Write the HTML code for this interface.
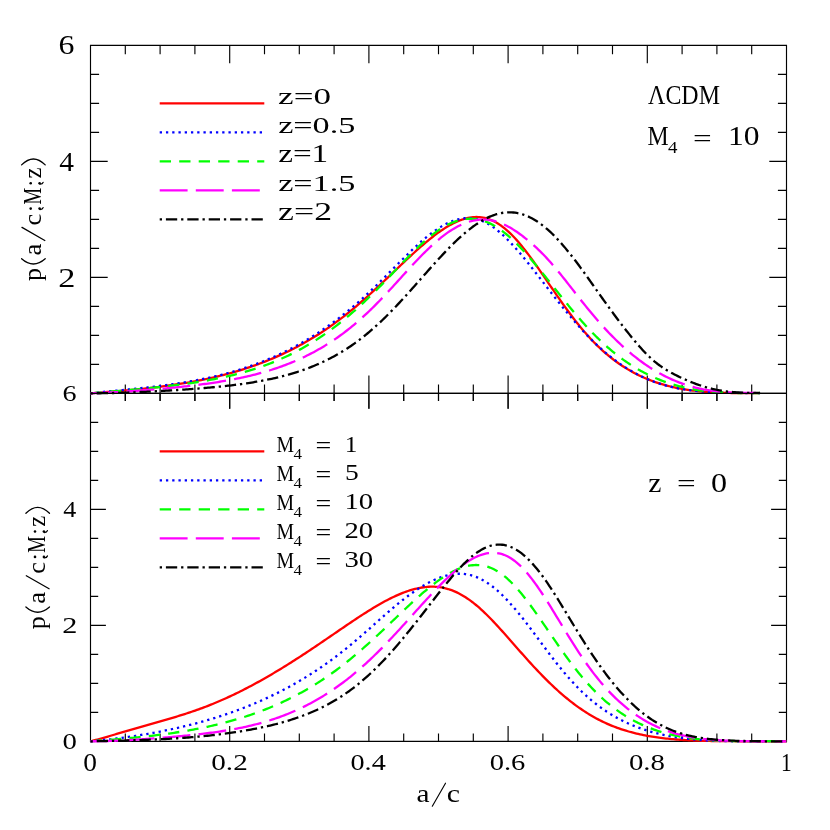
<!DOCTYPE html>
<html><head><meta charset="utf-8"><title>p(a/c;M;z)</title>
<style>
html,body{margin:0;padding:0;background:#fff;}
svg{display:block;font-family:"Liberation Serif",serif;}
</style></head>
<body>
<svg width="830" height="830" viewBox="0 0 830 830">
<rect width="830" height="830" fill="#fff"/>
<g opacity="0.999">
<path d="M90.50 45.30H786.50V741.30H90.50ZM90.50 393.30L786.50 393.30" fill="none" stroke="#000" stroke-width="1.15" stroke-linejoin="miter"/>
<path d="M125.30 393.30L125.30 384.40M125.30 45.30L125.30 54.20M160.10 393.30L160.10 384.40M160.10 45.30L160.10 54.20M194.90 393.30L194.90 384.40M194.90 45.30L194.90 54.20M229.70 393.30L229.70 375.40M229.70 45.30L229.70 63.20M264.50 393.30L264.50 384.40M264.50 45.30L264.50 54.20M299.30 393.30L299.30 384.40M299.30 45.30L299.30 54.20M334.10 393.30L334.10 384.40M334.10 45.30L334.10 54.20M368.90 393.30L368.90 375.40M368.90 45.30L368.90 63.20M403.70 393.30L403.70 384.40M403.70 45.30L403.70 54.20M438.50 393.30L438.50 384.40M438.50 45.30L438.50 54.20M473.30 393.30L473.30 384.40M473.30 45.30L473.30 54.20M508.10 393.30L508.10 375.40M508.10 45.30L508.10 63.20M542.90 393.30L542.90 384.40M542.90 45.30L542.90 54.20M577.70 393.30L577.70 384.40M577.70 45.30L577.70 54.20M612.50 393.30L612.50 384.40M612.50 45.30L612.50 54.20M647.30 393.30L647.30 375.40M647.30 45.30L647.30 63.20M682.10 393.30L682.10 384.40M682.10 45.30L682.10 54.20M716.90 393.30L716.90 384.40M716.90 45.30L716.90 54.20M751.70 393.30L751.70 384.40M751.70 45.30L751.70 54.20M90.50 364.30L99.10 364.30M786.50 364.30L777.90 364.30M90.50 335.30L99.10 335.30M786.50 335.30L777.90 335.30M90.50 306.30L99.10 306.30M786.50 306.30L777.90 306.30M90.50 277.30L107.70 277.30M786.50 277.30L769.30 277.30M90.50 248.30L99.10 248.30M786.50 248.30L777.90 248.30M90.50 219.30L99.10 219.30M786.50 219.30L777.90 219.30M90.50 190.30L99.10 190.30M786.50 190.30L777.90 190.30M90.50 161.30L107.70 161.30M786.50 161.30L769.30 161.30M90.50 132.30L99.10 132.30M786.50 132.30L777.90 132.30M90.50 103.30L99.10 103.30M786.50 103.30L777.90 103.30M90.50 74.30L99.10 74.30M786.50 74.30L777.90 74.30M125.30 741.30L125.30 733.60M125.30 393.30L125.30 401.00M160.10 741.30L160.10 733.60M160.10 393.30L160.10 401.00M194.90 741.30L194.90 733.60M194.90 393.30L194.90 401.00M229.70 741.30L229.70 725.90M229.70 393.30L229.70 408.70M264.50 741.30L264.50 733.60M264.50 393.30L264.50 401.00M299.30 741.30L299.30 733.60M299.30 393.30L299.30 401.00M334.10 741.30L334.10 733.60M334.10 393.30L334.10 401.00M368.90 741.30L368.90 725.90M368.90 393.30L368.90 408.70M403.70 741.30L403.70 733.60M403.70 393.30L403.70 401.00M438.50 741.30L438.50 733.60M438.50 393.30L438.50 401.00M473.30 741.30L473.30 733.60M473.30 393.30L473.30 401.00M508.10 741.30L508.10 725.90M508.10 393.30L508.10 408.70M542.90 741.30L542.90 733.60M542.90 393.30L542.90 401.00M577.70 741.30L577.70 733.60M577.70 393.30L577.70 401.00M612.50 741.30L612.50 733.60M612.50 393.30L612.50 401.00M647.30 741.30L647.30 725.90M647.30 393.30L647.30 408.70M682.10 741.30L682.10 733.60M682.10 393.30L682.10 401.00M716.90 741.30L716.90 733.60M716.90 393.30L716.90 401.00M751.70 741.30L751.70 733.60M751.70 393.30L751.70 401.00M90.50 712.30L98.20 712.30M786.50 712.30L778.80 712.30M90.50 683.30L98.20 683.30M786.50 683.30L778.80 683.30M90.50 654.30L98.20 654.30M786.50 654.30L778.80 654.30M90.50 625.30L105.90 625.30M786.50 625.30L771.10 625.30M90.50 596.30L98.20 596.30M786.50 596.30L778.80 596.30M90.50 567.30L98.20 567.30M786.50 567.30L778.80 567.30M90.50 538.30L98.20 538.30M786.50 538.30L778.80 538.30M90.50 509.30L105.90 509.30M786.50 509.30L771.10 509.30M90.50 480.30L98.20 480.30M786.50 480.30L778.80 480.30M90.50 451.30L98.20 451.30M786.50 451.30L778.80 451.30M90.50 422.30L98.20 422.30M786.50 422.30L778.80 422.30" fill="none" stroke="#000" stroke-width="1.15"/>
<path d="M90.50 393.30L92.18 393.18L93.86 393.06L95.53 392.93L97.21 392.80L98.89 392.68L100.57 392.55L102.25 392.42L103.92 392.29L105.60 392.16L107.28 392.02L108.96 391.89L110.64 391.75L112.31 391.61L113.99 391.48L115.67 391.34L117.35 391.19L119.03 391.05L120.71 390.90L122.38 390.75L124.06 390.60L125.74 390.45L127.42 390.30L129.10 390.14L130.77 389.98L132.45 389.82L134.13 389.66L135.81 389.49L137.49 389.32L139.16 389.15L140.84 388.97L142.52 388.80L144.20 388.62L145.88 388.43L147.55 388.24L149.23 388.05L150.91 387.86L152.59 387.66L154.27 387.46L155.94 387.26L157.62 387.05L159.30 386.84L160.98 386.62L162.66 386.40L164.34 386.18L166.01 385.95L167.69 385.72L169.37 385.49L171.05 385.25L172.73 385.00L174.40 384.75L176.08 384.50L177.76 384.24L179.44 383.97L181.12 383.70L182.79 383.43L184.47 383.15L186.15 382.87L187.83 382.58L189.51 382.28L191.18 381.98L192.86 381.67L194.54 381.36L196.22 381.04L197.90 380.72L199.57 380.39L201.25 380.05L202.93 379.71L204.61 379.36L206.29 379.00L207.97 378.64L209.64 378.27L211.32 377.89L213.00 377.51L214.68 377.12L216.36 376.72L218.03 376.32L219.71 375.90L221.39 375.48L223.07 375.06L224.75 374.62L226.42 374.18L228.10 373.73L229.78 373.27L231.46 372.80L233.14 372.33L234.81 371.84L236.49 371.35L238.17 370.85L239.85 370.34L241.53 369.82L243.20 369.29L244.88 368.76L246.56 368.21L248.24 367.66L249.92 367.09L251.60 366.52L253.27 365.93L254.95 365.34L256.63 364.74L258.31 364.12L259.99 363.50L261.66 362.86L263.34 362.22L265.02 361.56L266.70 360.90L268.38 360.22L270.05 359.53L271.73 358.83L273.41 358.12L275.09 357.40L276.77 356.66L278.44 355.92L280.12 355.16L281.80 354.39L283.48 353.61L285.16 352.82L286.83 352.01L288.51 351.19L290.19 350.36L291.87 349.52L293.55 348.66L295.23 347.80L296.90 346.91L298.58 346.02L300.26 345.11L301.94 344.19L303.62 343.25L305.29 342.30L306.97 341.33L308.65 340.36L310.33 339.36L312.01 338.36L313.68 337.34L315.36 336.30L317.04 335.25L318.72 334.18L320.40 333.10L322.07 332.00L323.75 330.89L325.43 329.77L327.11 328.62L328.79 327.46L330.46 326.29L332.14 325.10L333.82 323.89L335.50 322.67L337.18 321.43L338.86 320.17L340.53 318.90L342.21 317.61L343.89 316.31L345.57 314.99L347.25 313.66L348.92 312.31L350.60 310.94L352.28 309.56L353.96 308.17L355.64 306.76L357.31 305.33L358.99 303.90L360.67 302.45L362.35 300.98L364.03 299.51L365.70 298.02L367.38 296.52L369.06 295.01L370.74 293.49L372.42 291.96L374.09 290.42L375.77 288.87L377.45 287.31L379.13 285.74L380.81 284.17L382.49 282.59L384.16 281.00L385.84 279.41L387.52 277.82L389.20 276.22L390.88 274.62L392.55 273.02L394.23 271.42L395.91 269.82L397.59 268.21L399.27 266.61L400.94 265.02L402.62 263.43L404.30 261.84L405.98 260.26L407.66 258.68L409.33 257.12L411.01 255.56L412.69 254.01L414.37 252.48L416.05 250.96L417.72 249.45L419.40 247.96L421.08 246.48L422.76 245.02L424.44 243.59L426.12 242.17L427.79 240.77L429.47 239.40L431.15 238.05L432.83 236.73L434.51 235.44L436.18 234.17L437.86 232.94L439.54 231.74L441.22 230.57L442.90 229.44L444.57 228.35L446.25 227.30L447.93 226.28L449.61 225.31L451.29 224.38L452.96 223.50L454.64 222.67L456.32 221.88L458.00 221.15L459.68 220.47L461.35 219.84L463.03 219.28L464.71 218.77L466.39 218.32L468.07 217.93L469.74 217.61L471.42 217.36L473.10 217.17L474.78 217.06L476.46 217.02L478.14 217.06L479.81 217.17L481.49 217.36L483.17 217.63L484.85 217.98L486.53 218.41L488.20 218.93L489.88 219.53L491.56 220.21L493.24 220.98L494.92 221.83L496.59 222.76L498.27 223.78L499.95 224.88L501.63 226.06L503.31 227.32L504.98 228.67L506.66 230.09L508.34 231.58L510.02 233.15L511.70 234.80L513.37 236.51L515.05 238.30L516.73 240.14L518.41 242.06L520.09 244.03L521.77 246.06L523.44 248.14L525.12 250.27L526.80 252.45L528.48 254.67L530.16 256.93L531.83 259.22L533.51 261.54L535.19 263.90L536.87 266.28L538.55 268.67L540.22 271.09L541.90 273.52L543.58 275.96L545.26 278.41L546.94 280.87L548.61 283.33L550.29 285.78L551.97 288.24L553.65 290.68L555.33 293.12L557.00 295.55L558.68 297.96L560.36 300.36L562.04 302.74L563.72 305.09L565.40 307.43L567.07 309.74L568.75 312.02L570.43 314.28L572.11 316.50L573.79 318.70L575.46 320.86L577.14 322.98L578.82 325.08L580.50 327.13L582.18 329.15L583.85 331.13L585.53 333.07L587.21 334.98L588.89 336.84L590.57 338.67L592.24 340.45L593.92 342.19L595.60 343.90L597.28 345.56L598.96 347.18L600.63 348.76L602.31 350.31L603.99 351.81L605.67 353.28L607.35 354.71L609.03 356.10L610.70 357.45L612.38 358.77L614.06 360.05L615.74 361.30L617.42 362.51L619.09 363.70L620.77 364.84L622.45 365.96L624.13 367.04L625.81 368.09L627.48 369.12L629.16 370.11L630.84 371.07L632.52 372.00L634.20 372.91L635.87 373.78L637.55 374.63L639.23 375.45L640.91 376.25L642.59 377.02L644.26 377.76L645.94 378.48L647.62 379.18L649.30 379.85L650.98 380.50L652.66 381.13L654.33 381.73L656.01 382.31L657.69 382.87L659.37 383.41L661.05 383.93L662.72 384.43L664.40 384.91L666.08 385.37L667.76 385.81L669.44 386.24L671.11 386.65L672.79 387.04L674.47 387.41L676.15 387.76L677.83 388.11L679.50 388.43L681.18 388.74L682.86 389.04L684.54 389.32L686.22 389.59L687.89 389.84L689.57 390.08L691.25 390.31L692.93 390.53L694.61 390.73L696.29 390.93L697.96 391.11L699.64 391.28L701.32 391.44L703.00 391.60L704.68 391.74L706.35 391.87L708.03 391.99L709.71 392.11L711.39 392.22L713.07 392.32L714.74 392.41L716.42 392.49L718.10 392.57L719.78 392.64L721.46 392.71L723.13 392.77L724.81 392.82L726.49 392.87L728.17 392.92L729.85 392.95L731.52 392.99L733.20 393.02L734.88 393.05L736.56 393.07L738.24 393.09L739.92 393.11L741.59 393.12L743.27 393.13L744.95 393.14L746.63 393.15L748.31 393.15L749.98 393.16L751.66 393.16L753.34 393.16L755.02 393.16L756.70 393.17L758.37 393.17L760.05 393.17" fill="none" stroke="#ff0000" stroke-width="2.30" stroke-linejoin="round"/>
<path d="M90.50 393.30L92.18 393.13L93.86 392.95L95.53 392.77L97.21 392.59L98.89 392.41L100.57 392.24L102.25 392.07L103.92 391.90L105.60 391.73L107.28 391.56L108.96 391.39L110.64 391.22L112.31 391.05L113.99 390.89L115.67 390.72L117.35 390.55L119.03 390.39L120.71 390.22L122.38 390.05L124.06 389.88L125.74 389.72L127.42 389.55L129.10 389.38L130.77 389.21L132.45 389.04L134.13 388.86L135.81 388.69L137.49 388.51L139.16 388.33L140.84 388.15L142.52 387.97L144.20 387.79L145.88 387.60L147.55 387.41L149.23 387.22L150.91 387.03L152.59 386.83L154.27 386.63L155.94 386.43L157.62 386.23L159.30 386.02L160.98 385.81L162.66 385.59L164.34 385.37L166.01 385.15L167.69 384.92L169.37 384.69L171.05 384.45L172.73 384.21L174.40 383.97L176.08 383.72L177.76 383.47L179.44 383.21L181.12 382.94L182.79 382.67L184.47 382.40L186.15 382.12L187.83 381.83L189.51 381.54L191.18 381.25L192.86 380.94L194.54 380.63L196.22 380.32L197.90 380.00L199.57 379.67L201.25 379.34L202.93 379.00L204.61 378.65L206.29 378.29L207.97 377.93L209.64 377.56L211.32 377.19L213.00 376.80L214.68 376.41L216.36 376.01L218.03 375.61L219.71 375.19L221.39 374.77L223.07 374.34L224.75 373.90L226.42 373.45L228.10 372.99L229.78 372.53L231.46 372.06L233.14 371.57L234.81 371.08L236.49 370.58L238.17 370.07L239.85 369.55L241.53 369.02L243.20 368.48L244.88 367.94L246.56 367.38L248.24 366.81L249.92 366.23L251.60 365.64L253.27 365.04L254.95 364.43L256.63 363.81L258.31 363.18L259.99 362.54L261.66 361.89L263.34 361.23L265.02 360.55L266.70 359.87L268.38 359.17L270.05 358.46L271.73 357.74L273.41 357.01L275.09 356.26L276.77 355.51L278.44 354.74L280.12 353.96L281.80 353.17L283.48 352.36L285.16 351.54L286.83 350.71L288.51 349.87L290.19 349.02L291.87 348.15L293.55 347.27L295.23 346.37L296.90 345.46L298.58 344.54L300.26 343.61L301.94 342.66L303.62 341.70L305.29 340.72L306.97 339.73L308.65 338.72L310.33 337.71L312.01 336.67L313.68 335.63L315.36 334.56L317.04 333.49L318.72 332.40L320.40 331.29L322.07 330.17L323.75 329.03L325.43 327.88L327.11 326.72L328.79 325.54L330.46 324.34L332.14 323.13L333.82 321.90L335.50 320.65L337.18 319.40L338.86 318.12L340.53 316.83L342.21 315.52L343.89 314.20L345.57 312.86L347.25 311.50L348.92 310.12L350.60 308.73L352.28 307.33L353.96 305.90L355.64 304.46L357.31 303.01L358.99 301.53L360.67 300.04L362.35 298.54L364.03 297.02L365.70 295.48L367.38 293.93L369.06 292.36L370.74 290.78L372.42 289.19L374.09 287.58L375.77 285.96L377.45 284.33L379.13 282.69L380.81 281.04L382.49 279.39L384.16 277.72L385.84 276.05L387.52 274.37L389.20 272.68L390.88 271.00L392.55 269.31L394.23 267.62L395.91 265.93L397.59 264.24L399.27 262.56L400.94 260.88L402.62 259.21L404.30 257.54L405.98 255.89L407.66 254.24L409.33 252.61L411.01 250.99L412.69 249.39L414.37 247.81L416.05 246.25L417.72 244.71L419.40 243.20L421.08 241.71L422.76 240.25L424.44 238.83L426.12 237.43L427.79 236.07L429.47 234.74L431.15 233.45L432.83 232.20L434.51 230.99L436.18 229.83L437.86 228.71L439.54 227.63L441.22 226.61L442.90 225.63L444.57 224.71L446.25 223.84L447.93 223.02L449.61 222.26L451.29 221.56L452.96 220.92L454.64 220.34L456.32 219.83L458.00 219.38L459.68 218.99L461.35 218.67L463.03 218.43L464.71 218.25L466.39 218.15L468.07 218.12L469.74 218.17L471.42 218.29L473.10 218.49L474.78 218.77L476.46 219.13L478.14 219.57L479.81 220.09L481.49 220.70L483.17 221.38L484.85 222.15L486.53 222.99L488.20 223.91L489.88 224.91L491.56 225.99L493.24 227.13L494.92 228.35L496.59 229.64L498.27 231.00L499.95 232.42L501.63 233.90L503.31 235.43L504.98 237.03L506.66 238.67L508.34 240.36L510.02 242.10L511.70 243.89L513.37 245.71L515.05 247.58L516.73 249.47L518.41 251.41L520.09 253.37L521.77 255.36L523.44 257.38L525.12 259.43L526.80 261.49L528.48 263.58L530.16 265.68L531.83 267.80L533.51 269.93L535.19 272.07L536.87 274.22L538.55 276.38L540.22 278.55L541.90 280.71L543.58 282.89L545.26 285.06L546.94 287.22L548.61 289.39L550.29 291.55L551.97 293.71L553.65 295.86L555.33 297.99L557.00 300.12L558.68 302.24L560.36 304.34L562.04 306.43L563.72 308.50L565.40 310.56L567.07 312.60L568.75 314.62L570.43 316.62L572.11 318.60L573.79 320.56L575.46 322.49L577.14 324.41L578.82 326.29L580.50 328.16L582.18 329.99L583.85 331.80L585.53 333.59L587.21 335.35L588.89 337.08L590.57 338.78L592.24 340.45L593.92 342.09L595.60 343.71L597.28 345.29L598.96 346.85L600.63 348.38L602.31 349.87L603.99 351.34L605.67 352.78L607.35 354.18L609.03 355.56L610.70 356.91L612.38 358.22L614.06 359.51L615.74 360.77L617.42 362.00L619.09 363.20L620.77 364.37L622.45 365.51L624.13 366.62L625.81 367.70L627.48 368.75L629.16 369.78L630.84 370.77L632.52 371.74L634.20 372.68L635.87 373.59L637.55 374.47L639.23 375.33L640.91 376.16L642.59 376.96L644.26 377.74L645.94 378.49L647.62 379.21L649.30 379.91L650.98 380.59L652.66 381.24L654.33 381.86L656.01 382.46L657.69 383.04L659.37 383.59L661.05 384.12L662.72 384.63L664.40 385.12L666.08 385.58L667.76 386.03L669.44 386.45L671.11 386.86L672.79 387.24L674.47 387.61L676.15 387.96L677.83 388.29L679.50 388.60L681.18 388.90L682.86 389.18L684.54 389.44L686.22 389.69L687.89 389.93L689.57 390.15L691.25 390.36L692.93 390.56L694.61 390.75L696.29 390.92L697.96 391.09L699.64 391.24L701.32 391.39L703.00 391.52L704.68 391.65L706.35 391.77L708.03 391.88L709.71 391.98L711.39 392.07L713.07 392.16L714.74 392.25L716.42 392.32L718.10 392.40L719.78 392.46L721.46 392.52L723.13 392.58L724.81 392.63L726.49 392.68L728.17 392.73L729.85 392.77L731.52 392.81L733.20 392.85L734.88 392.88L736.56 392.91L738.24 392.94L739.92 392.97L741.59 392.99L743.27 393.02L744.95 393.04L746.63 393.06L748.31 393.08L749.98 393.10L751.66 393.12L753.34 393.13L755.02 393.15L756.70 393.17L758.37 393.18L760.05 393.19" fill="none" stroke="#0000ff" stroke-width="2.30" stroke-linejoin="round" stroke-dasharray="2.3 3.95"/>
<path d="M90.50 393.30L92.18 393.17L93.86 393.03L95.53 392.90L97.21 392.77L98.89 392.63L100.57 392.50L102.25 392.36L103.92 392.22L105.60 392.08L107.28 391.94L108.96 391.80L110.64 391.66L112.31 391.52L113.99 391.38L115.67 391.23L117.35 391.09L119.03 390.94L120.71 390.80L122.38 390.65L124.06 390.50L125.74 390.35L127.42 390.20L129.10 390.05L130.77 389.90L132.45 389.74L134.13 389.59L135.81 389.43L137.49 389.27L139.16 389.11L140.84 388.95L142.52 388.79L144.20 388.62L145.88 388.46L147.55 388.29L149.23 388.12L150.91 387.95L152.59 387.78L154.27 387.60L155.94 387.42L157.62 387.24L159.30 387.06L160.98 386.88L162.66 386.69L164.34 386.50L166.01 386.31L167.69 386.11L169.37 385.91L171.05 385.71L172.73 385.51L174.40 385.30L176.08 385.09L177.76 384.88L179.44 384.66L181.12 384.44L182.79 384.21L184.47 383.98L186.15 383.75L187.83 383.51L189.51 383.27L191.18 383.03L192.86 382.78L194.54 382.52L196.22 382.26L197.90 382.00L199.57 381.73L201.25 381.45L202.93 381.17L204.61 380.88L206.29 380.59L207.97 380.29L209.64 379.99L211.32 379.68L213.00 379.36L214.68 379.04L216.36 378.71L218.03 378.38L219.71 378.03L221.39 377.68L223.07 377.32L224.75 376.96L226.42 376.58L228.10 376.20L229.78 375.81L231.46 375.41L233.14 375.01L234.81 374.59L236.49 374.17L238.17 373.73L239.85 373.29L241.53 372.84L243.20 372.38L244.88 371.91L246.56 371.42L248.24 370.93L249.92 370.43L251.60 369.91L253.27 369.39L254.95 368.85L256.63 368.30L258.31 367.74L259.99 367.17L261.66 366.59L263.34 365.99L265.02 365.38L266.70 364.76L268.38 364.12L270.05 363.48L271.73 362.81L273.41 362.14L275.09 361.45L276.77 360.75L278.44 360.03L280.12 359.30L281.80 358.56L283.48 357.80L285.16 357.02L286.83 356.24L288.51 355.43L290.19 354.61L291.87 353.78L293.55 352.93L295.23 352.06L296.90 351.18L298.58 350.29L300.26 349.37L301.94 348.44L303.62 347.50L305.29 346.54L306.97 345.56L308.65 344.57L310.33 343.56L312.01 342.53L313.68 341.49L315.36 340.43L317.04 339.35L318.72 338.26L320.40 337.14L322.07 336.02L323.75 334.87L325.43 333.71L327.11 332.53L328.79 331.33L330.46 330.11L332.14 328.88L333.82 327.63L335.50 326.36L337.18 325.08L338.86 323.77L340.53 322.45L342.21 321.12L343.89 319.76L345.57 318.39L347.25 316.99L348.92 315.58L350.60 314.16L352.28 312.71L353.96 311.25L355.64 309.77L357.31 308.27L358.99 306.75L360.67 305.22L362.35 303.67L364.03 302.10L365.70 300.51L367.38 298.91L369.06 297.29L370.74 295.66L372.42 294.01L374.09 292.35L375.77 290.67L377.45 288.98L379.13 287.28L380.81 285.57L382.49 283.84L384.16 282.11L385.84 280.37L387.52 278.62L389.20 276.87L390.88 275.11L392.55 273.35L394.23 271.58L395.91 269.82L397.59 268.05L399.27 266.29L400.94 264.53L402.62 262.78L404.30 261.03L405.98 259.30L407.66 257.57L409.33 255.86L411.01 254.16L412.69 252.48L414.37 250.81L416.05 249.17L417.72 247.55L419.40 245.96L421.08 244.39L422.76 242.86L424.44 241.35L426.12 239.88L427.79 238.44L429.47 237.05L431.15 235.69L432.83 234.37L434.51 233.10L436.18 231.87L437.86 230.68L439.54 229.55L441.22 228.46L442.90 227.42L444.57 226.44L446.25 225.51L447.93 224.63L449.61 223.81L451.29 223.05L452.96 222.35L454.64 221.71L456.32 221.13L458.00 220.60L459.68 220.15L461.35 219.75L463.03 219.42L464.71 219.16L466.39 218.96L468.07 218.83L469.74 218.77L471.42 218.77L473.10 218.85L474.78 218.99L476.46 219.20L478.14 219.49L479.81 219.84L481.49 220.26L483.17 220.75L484.85 221.31L486.53 221.94L488.20 222.64L489.88 223.40L491.56 224.23L493.24 225.13L494.92 226.09L496.59 227.12L498.27 228.20L499.95 229.35L501.63 230.56L503.31 231.82L504.98 233.14L506.66 234.51L508.34 235.93L510.02 237.40L511.70 238.92L513.37 240.49L515.05 242.10L516.73 243.75L518.41 245.44L520.09 247.17L521.77 248.94L523.44 250.74L525.12 252.58L526.80 254.44L528.48 256.34L530.16 258.26L531.83 260.21L533.51 262.18L535.19 264.18L536.87 266.19L538.55 268.23L540.22 270.28L541.90 272.34L543.58 274.42L545.26 276.51L546.94 278.61L548.61 280.71L550.29 282.82L551.97 284.93L553.65 287.05L555.33 289.17L557.00 291.28L558.68 293.39L560.36 295.49L562.04 297.59L563.72 299.68L565.40 301.76L567.07 303.83L568.75 305.88L570.43 307.92L572.11 309.94L573.79 311.95L575.46 313.93L577.14 315.90L578.82 317.85L580.50 319.77L582.18 321.67L583.85 323.55L585.53 325.41L587.21 327.24L588.89 329.04L590.57 330.82L592.24 332.57L593.92 334.29L595.60 335.98L597.28 337.65L598.96 339.29L600.63 340.90L602.31 342.47L603.99 344.02L605.67 345.54L607.35 347.03L609.03 348.49L610.70 349.92L612.38 351.33L614.06 352.70L615.74 354.04L617.42 355.36L619.09 356.65L620.77 357.91L622.45 359.14L624.13 360.34L625.81 361.52L627.48 362.67L629.16 363.79L630.84 364.89L632.52 365.95L634.20 367.00L635.87 368.02L637.55 369.01L639.23 369.97L640.91 370.91L642.59 371.83L644.26 372.72L645.94 373.59L647.62 374.43L649.30 375.25L650.98 376.05L652.66 376.82L654.33 377.57L656.01 378.30L657.69 379.01L659.37 379.69L661.05 380.35L662.72 380.99L664.40 381.61L666.08 382.21L667.76 382.79L669.44 383.35L671.11 383.89L672.79 384.40L674.47 384.90L676.15 385.38L677.83 385.85L679.50 386.29L681.18 386.71L682.86 387.12L684.54 387.51L686.22 387.89L687.89 388.24L689.57 388.58L691.25 388.91L692.93 389.22L694.61 389.51L696.29 389.79L697.96 390.05L699.64 390.30L701.32 390.54L703.00 390.76L704.68 390.97L706.35 391.17L708.03 391.35L709.71 391.52L711.39 391.69L713.07 391.83L714.74 391.97L716.42 392.10L718.10 392.22L719.78 392.33L721.46 392.42L723.13 392.51L724.81 392.60L726.49 392.67L728.17 392.73L729.85 392.79L731.52 392.84L733.20 392.88L734.88 392.92L736.56 392.95L738.24 392.98L739.92 393.00L741.59 393.02L743.27 393.03L744.95 393.04L746.63 393.04L748.31 393.05L749.98 393.05L751.66 393.05L753.34 393.04L755.02 393.04L756.70 393.03L758.37 393.03L760.05 393.02" fill="none" stroke="#00ff00" stroke-width="2.30" stroke-linejoin="round" stroke-dasharray="11.3 8.2"/>
<path d="M90.50 393.29L92.18 393.24L93.86 393.18L95.53 393.12L97.21 393.06L98.89 393.00L100.57 392.93L102.25 392.86L103.92 392.78L105.60 392.71L107.28 392.62L108.96 392.54L110.64 392.45L112.31 392.37L113.99 392.27L115.67 392.18L117.35 392.08L119.03 391.98L120.71 391.88L122.38 391.78L124.06 391.67L125.74 391.57L127.42 391.46L129.10 391.34L130.77 391.23L132.45 391.11L134.13 390.99L135.81 390.87L137.49 390.75L139.16 390.63L140.84 390.50L142.52 390.37L144.20 390.24L145.88 390.11L147.55 389.97L149.23 389.84L150.91 389.70L152.59 389.56L154.27 389.42L155.94 389.27L157.62 389.13L159.30 388.98L160.98 388.83L162.66 388.68L164.34 388.52L166.01 388.36L167.69 388.21L169.37 388.04L171.05 387.88L172.73 387.71L174.40 387.55L176.08 387.37L177.76 387.20L179.44 387.02L181.12 386.85L182.79 386.66L184.47 386.48L186.15 386.29L187.83 386.10L189.51 385.91L191.18 385.71L192.86 385.51L194.54 385.31L196.22 385.10L197.90 384.89L199.57 384.67L201.25 384.45L202.93 384.23L204.61 384.00L206.29 383.77L207.97 383.54L209.64 383.30L211.32 383.05L213.00 382.80L214.68 382.55L216.36 382.29L218.03 382.03L219.71 381.76L221.39 381.48L223.07 381.20L224.75 380.91L226.42 380.62L228.10 380.32L229.78 380.01L231.46 379.70L233.14 379.38L234.81 379.06L236.49 378.72L238.17 378.38L239.85 378.04L241.53 377.68L243.20 377.32L244.88 376.94L246.56 376.56L248.24 376.18L249.92 375.78L251.60 375.37L253.27 374.96L254.95 374.53L256.63 374.10L258.31 373.66L259.99 373.20L261.66 372.74L263.34 372.27L265.02 371.78L266.70 371.29L268.38 370.78L270.05 370.26L271.73 369.74L273.41 369.20L275.09 368.64L276.77 368.08L278.44 367.50L280.12 366.91L281.80 366.31L283.48 365.70L285.16 365.07L286.83 364.43L288.51 363.77L290.19 363.10L291.87 362.42L293.55 361.72L295.23 361.01L296.90 360.28L298.58 359.54L300.26 358.78L301.94 358.01L303.62 357.22L305.29 356.41L306.97 355.59L308.65 354.75L310.33 353.90L312.01 353.03L313.68 352.14L315.36 351.23L317.04 350.30L318.72 349.36L320.40 348.39L322.07 347.41L323.75 346.41L325.43 345.39L327.11 344.35L328.79 343.29L330.46 342.21L332.14 341.11L333.82 339.99L335.50 338.85L337.18 337.69L338.86 336.50L340.53 335.30L342.21 334.07L343.89 332.81L345.57 331.54L347.25 330.24L348.92 328.92L350.60 327.58L352.28 326.21L353.96 324.82L355.64 323.40L357.31 321.97L358.99 320.50L360.67 319.02L362.35 317.51L364.03 315.97L365.70 314.42L367.38 312.84L369.06 311.24L370.74 309.61L372.42 307.97L374.09 306.31L375.77 304.62L377.45 302.92L379.13 301.20L380.81 299.47L382.49 297.71L384.16 295.94L385.84 294.16L387.52 292.37L389.20 290.56L390.88 288.74L392.55 286.91L394.23 285.08L395.91 283.24L397.59 281.39L399.27 279.54L400.94 277.69L402.62 275.84L404.30 273.99L405.98 272.15L407.66 270.31L409.33 268.47L411.01 266.65L412.69 264.84L414.37 263.04L416.05 261.25L417.72 259.48L419.40 257.73L421.08 256.01L422.76 254.30L424.44 252.62L426.12 250.96L427.79 249.33L429.47 247.73L431.15 246.15L432.83 244.62L434.51 243.11L436.18 241.64L437.86 240.20L439.54 238.80L441.22 237.45L442.90 236.13L444.57 234.85L446.25 233.62L447.93 232.43L449.61 231.28L451.29 230.19L452.96 229.14L454.64 228.14L456.32 227.19L458.00 226.29L459.68 225.44L461.35 224.65L463.03 223.91L464.71 223.22L466.39 222.59L468.07 222.02L469.74 221.50L471.42 221.05L473.10 220.65L474.78 220.31L476.46 220.03L478.14 219.82L479.81 219.66L481.49 219.57L483.17 219.55L484.85 219.58L486.53 219.68L488.20 219.84L489.88 220.07L491.56 220.36L493.24 220.72L494.92 221.14L496.59 221.62L498.27 222.16L499.95 222.76L501.63 223.43L503.31 224.15L504.98 224.93L506.66 225.77L508.34 226.65L510.02 227.60L511.70 228.59L513.37 229.62L515.05 230.71L516.73 231.83L518.41 233.00L520.09 234.20L521.77 235.45L523.44 236.73L525.12 238.04L526.80 239.39L528.48 240.77L530.16 242.19L531.83 243.64L533.51 245.13L535.19 246.65L536.87 248.20L538.55 249.80L540.22 251.43L541.90 253.10L543.58 254.81L545.26 256.56L546.94 258.36L548.61 260.19L550.29 262.06L551.97 263.97L553.65 265.92L555.33 267.90L557.00 269.91L558.68 271.95L560.36 274.01L562.04 276.10L563.72 278.20L565.40 280.32L567.07 282.45L568.75 284.59L570.43 286.73L572.11 288.88L573.79 291.03L575.46 293.18L577.14 295.32L578.82 297.45L580.50 299.58L582.18 301.70L583.85 303.80L585.53 305.89L587.21 307.96L588.89 310.02L590.57 312.05L592.24 314.07L593.92 316.07L595.60 318.04L597.28 319.99L598.96 321.91L600.63 323.81L602.31 325.68L603.99 327.53L605.67 329.35L607.35 331.15L609.03 332.92L610.70 334.66L612.38 336.37L614.06 338.06L615.74 339.72L617.42 341.35L619.09 342.95L620.77 344.53L622.45 346.08L624.13 347.60L625.81 349.09L627.48 350.56L629.16 352.00L630.84 353.41L632.52 354.79L634.20 356.15L635.87 357.47L637.55 358.77L639.23 360.05L640.91 361.29L642.59 362.51L644.26 363.70L645.94 364.86L647.62 366.00L649.30 367.11L650.98 368.19L652.66 369.24L654.33 370.27L656.01 371.27L657.69 372.24L659.37 373.19L661.05 374.11L662.72 375.01L664.40 375.88L666.08 376.72L667.76 377.54L669.44 378.33L671.11 379.10L672.79 379.84L674.47 380.56L676.15 381.25L677.83 381.92L679.50 382.57L681.18 383.19L682.86 383.79L684.54 384.36L686.22 384.92L687.89 385.45L689.57 385.95L691.25 386.44L692.93 386.91L694.61 387.35L696.29 387.77L697.96 388.18L699.64 388.56L701.32 388.92L703.00 389.27L704.68 389.59L706.35 389.90L708.03 390.19L709.71 390.46L711.39 390.71L713.07 390.95L714.74 391.17L716.42 391.37L718.10 391.56L719.78 391.74L721.46 391.90L723.13 392.05L724.81 392.18L726.49 392.30L728.17 392.41L729.85 392.51L731.52 392.59L733.20 392.67L734.88 392.73L736.56 392.79L738.24 392.84L739.92 392.88L741.59 392.91L743.27 392.93L744.95 392.95L746.63 392.96L748.31 392.97L749.98 392.97L751.66 392.97L753.34 392.97L755.02 392.96L756.70 392.95L758.37 392.94L760.05 392.93" fill="none" stroke="#ff00ff" stroke-width="2.30" stroke-linejoin="round" stroke-dasharray="27.9 8.2"/>
<path d="M90.50 393.28L92.18 393.28L93.86 393.28L95.53 393.28L97.21 393.27L98.89 393.25L100.57 393.24L102.25 393.22L103.92 393.20L105.60 393.17L107.28 393.14L108.96 393.11L110.64 393.07L112.31 393.03L113.99 392.99L115.67 392.94L117.35 392.90L119.03 392.85L120.71 392.80L122.38 392.74L124.06 392.69L125.74 392.63L127.42 392.57L129.10 392.50L130.77 392.44L132.45 392.37L134.13 392.30L135.81 392.23L137.49 392.16L139.16 392.09L140.84 392.01L142.52 391.94L144.20 391.86L145.88 391.78L147.55 391.70L149.23 391.61L150.91 391.53L152.59 391.44L154.27 391.35L155.94 391.27L157.62 391.18L159.30 391.08L160.98 390.99L162.66 390.90L164.34 390.80L166.01 390.71L167.69 390.61L169.37 390.51L171.05 390.41L172.73 390.30L174.40 390.20L176.08 390.09L177.76 389.99L179.44 389.88L181.12 389.77L182.79 389.65L184.47 389.54L186.15 389.42L187.83 389.31L189.51 389.19L191.18 389.06L192.86 388.94L194.54 388.82L196.22 388.69L197.90 388.56L199.57 388.42L201.25 388.29L202.93 388.15L204.61 388.01L206.29 387.87L207.97 387.72L209.64 387.58L211.32 387.42L213.00 387.27L214.68 387.11L216.36 386.95L218.03 386.78L219.71 386.62L221.39 386.44L223.07 386.27L224.75 386.09L226.42 385.90L228.10 385.72L229.78 385.52L231.46 385.33L233.14 385.12L234.81 384.92L236.49 384.71L238.17 384.49L239.85 384.27L241.53 384.04L243.20 383.80L244.88 383.56L246.56 383.32L248.24 383.07L249.92 382.81L251.60 382.54L253.27 382.27L254.95 381.99L256.63 381.71L258.31 381.41L259.99 381.11L261.66 380.80L263.34 380.48L265.02 380.16L266.70 379.82L268.38 379.48L270.05 379.13L271.73 378.77L273.41 378.40L275.09 378.02L276.77 377.63L278.44 377.22L280.12 376.81L281.80 376.39L283.48 375.96L285.16 375.51L286.83 375.06L288.51 374.59L290.19 374.11L291.87 373.62L293.55 373.12L295.23 372.60L296.90 372.07L298.58 371.52L300.26 370.96L301.94 370.39L303.62 369.81L305.29 369.20L306.97 368.59L308.65 367.96L310.33 367.31L312.01 366.65L313.68 365.97L315.36 365.27L317.04 364.56L318.72 363.83L320.40 363.08L322.07 362.31L323.75 361.53L325.43 360.72L327.11 359.90L328.79 359.06L330.46 358.20L332.14 357.32L333.82 356.42L335.50 355.49L337.18 354.55L338.86 353.58L340.53 352.59L342.21 351.58L343.89 350.55L345.57 349.49L347.25 348.41L348.92 347.31L350.60 346.18L352.28 345.03L353.96 343.85L355.64 342.65L357.31 341.42L358.99 340.17L360.67 338.89L362.35 337.58L364.03 336.25L365.70 334.90L367.38 333.51L369.06 332.11L370.74 330.67L372.42 329.22L374.09 327.74L375.77 326.23L377.45 324.70L379.13 323.15L380.81 321.57L382.49 319.97L384.16 318.35L385.84 316.70L387.52 315.04L389.20 313.35L390.88 311.65L392.55 309.92L394.23 308.18L395.91 306.42L397.59 304.64L399.27 302.85L400.94 301.05L402.62 299.23L404.30 297.39L405.98 295.55L407.66 293.70L409.33 291.83L411.01 289.96L412.69 288.08L414.37 286.19L416.05 284.30L417.72 282.40L419.40 280.50L421.08 278.60L422.76 276.70L424.44 274.80L426.12 272.90L427.79 271.01L429.47 269.12L431.15 267.24L432.83 265.36L434.51 263.50L436.18 261.64L437.86 259.80L439.54 257.98L441.22 256.17L442.90 254.37L444.57 252.59L446.25 250.84L447.93 249.10L449.61 247.39L451.29 245.70L452.96 244.03L454.64 242.40L456.32 240.79L458.00 239.21L459.68 237.66L461.35 236.14L463.03 234.66L464.71 233.21L466.39 231.80L468.07 230.42L469.74 229.09L471.42 227.80L473.10 226.54L474.78 225.34L476.46 224.17L478.14 223.06L479.81 221.99L481.49 220.97L483.17 220.00L484.85 219.08L486.53 218.21L488.20 217.40L489.88 216.64L491.56 215.95L493.24 215.31L494.92 214.73L496.59 214.20L498.27 213.75L499.95 213.35L501.63 213.01L503.31 212.74L504.98 212.54L506.66 212.40L508.34 212.32L510.02 212.31L511.70 212.37L513.37 212.49L515.05 212.68L516.73 212.94L518.41 213.27L520.09 213.66L521.77 214.12L523.44 214.65L525.12 215.25L526.80 215.91L528.48 216.64L530.16 217.43L531.83 218.30L533.51 219.22L535.19 220.22L536.87 221.27L538.55 222.39L540.22 223.58L541.90 224.82L543.58 226.13L545.26 227.49L546.94 228.92L548.61 230.40L550.29 231.94L551.97 233.54L553.65 235.19L555.33 236.89L557.00 238.64L558.68 240.44L560.36 242.30L562.04 244.19L563.72 246.14L565.40 248.12L567.07 250.15L568.75 252.21L570.43 254.32L572.11 256.45L573.79 258.62L575.46 260.82L577.14 263.05L578.82 265.31L580.50 267.58L582.18 269.88L583.85 272.20L585.53 274.53L587.21 276.88L588.89 279.24L590.57 281.60L592.24 283.97L593.92 286.35L595.60 288.72L597.28 291.10L598.96 293.48L600.63 295.85L602.31 298.21L603.99 300.57L605.67 302.92L607.35 305.26L609.03 307.58L610.70 309.90L612.38 312.19L614.06 314.48L615.74 316.74L617.42 318.99L619.09 321.22L620.77 323.43L622.45 325.62L624.13 327.78L625.81 329.93L627.48 332.05L629.16 334.15L630.84 336.23L632.52 338.28L634.20 340.30L635.87 342.30L637.55 344.26L639.23 346.18L640.91 348.07L642.59 349.91L644.26 351.71L645.94 353.45L647.62 355.14L649.30 356.77L650.98 358.34L652.66 359.84L654.33 361.28L656.01 362.66L657.69 363.98L659.37 365.24L661.05 366.43L662.72 367.58L664.40 368.67L666.08 369.72L667.76 370.72L669.44 371.69L671.11 372.62L672.79 373.53L674.47 374.41L676.15 375.27L677.83 376.10L679.50 376.92L681.18 377.72L682.86 378.51L684.54 379.27L686.22 380.01L687.89 380.74L689.57 381.44L691.25 382.13L692.93 382.79L694.61 383.43L696.29 384.05L697.96 384.65L699.64 385.22L701.32 385.78L703.00 386.31L704.68 386.82L706.35 387.30L708.03 387.76L709.71 388.20L711.39 388.62L713.07 389.02L714.74 389.39L716.42 389.75L718.10 390.08L719.78 390.38L721.46 390.67L723.13 390.94L724.81 391.19L726.49 391.41L728.17 391.62L729.85 391.81L731.52 391.98L733.20 392.13L734.88 392.27L736.56 392.38L738.24 392.49L739.92 392.58L741.59 392.65L743.27 392.71L744.95 392.76L746.63 392.79L748.31 392.82L749.98 392.84L751.66 392.85L753.34 392.85L755.02 392.84L756.70 392.83L758.37 392.82L760.05 392.80" fill="none" stroke="#000000" stroke-width="2.30" stroke-linejoin="round" stroke-dasharray="2.3 3.9 11.3 3.9"/>
<path d="M90.50 393.30L786.50 393.30M125.30 393.30L125.30 401.00M160.10 393.30L160.10 401.00M194.90 393.30L194.90 401.00M229.70 393.30L229.70 408.70M264.50 393.30L264.50 401.00M299.30 393.30L299.30 401.00M334.10 393.30L334.10 401.00M368.90 393.30L368.90 408.70M403.70 393.30L403.70 401.00M438.50 393.30L438.50 401.00M473.30 393.30L473.30 401.00M508.10 393.30L508.10 408.70M542.90 393.30L542.90 401.00M577.70 393.30L577.70 401.00M612.50 393.30L612.50 401.00M647.30 393.30L647.30 408.70M682.10 393.30L682.10 401.00M716.90 393.30L716.90 401.00M751.70 393.30L751.70 401.00" fill="none" stroke="#000" stroke-width="1.15"/>
<path d="M90.50 741.30L92.24 740.89L93.99 740.43L95.73 739.97L97.48 739.50L99.22 739.01L100.97 738.53L102.71 738.04L104.45 737.54L106.20 737.04L107.94 736.53L109.69 736.02L111.43 735.51L113.18 734.99L114.92 734.48L116.67 733.96L118.41 733.44L120.15 732.93L121.90 732.41L123.64 731.89L125.39 731.37L127.13 730.86L128.88 730.34L130.62 729.83L132.36 729.32L134.11 728.81L135.85 728.30L137.60 727.80L139.34 727.29L141.09 726.79L142.83 726.29L144.58 725.79L146.32 725.30L148.06 724.80L149.81 724.30L151.55 723.81L153.30 723.32L155.04 722.83L156.79 722.33L158.53 721.84L160.27 721.34L162.02 720.85L163.76 720.35L165.51 719.85L167.25 719.35L169.00 718.85L170.74 718.34L172.48 717.82L174.23 717.30L175.97 716.78L177.72 716.25L179.46 715.72L181.21 715.17L182.95 714.62L184.70 714.07L186.44 713.51L188.18 712.93L189.93 712.35L191.67 711.77L193.42 711.17L195.16 710.56L196.91 709.95L198.65 709.33L200.39 708.69L202.14 708.05L203.88 707.40L205.63 706.73L207.37 706.06L209.12 705.38L210.86 704.68L212.61 703.98L214.35 703.26L216.09 702.54L217.84 701.80L219.58 701.05L221.33 700.30L223.07 699.53L224.82 698.75L226.56 697.96L228.30 697.17L230.05 696.36L231.79 695.54L233.54 694.71L235.28 693.87L237.03 693.03L238.77 692.17L240.52 691.30L242.26 690.42L244.00 689.54L245.75 688.64L247.49 687.74L249.24 686.82L250.98 685.90L252.73 684.97L254.47 684.03L256.21 683.08L257.96 682.12L259.70 681.16L261.45 680.18L263.19 679.20L264.94 678.21L266.68 677.21L268.42 676.20L270.17 675.18L271.91 674.16L273.66 673.13L275.40 672.09L277.15 671.05L278.89 669.99L280.64 668.93L282.38 667.87L284.12 666.79L285.87 665.71L287.61 664.62L289.36 663.53L291.10 662.43L292.85 661.32L294.59 660.21L296.33 659.09L298.08 657.97L299.82 656.84L301.57 655.70L303.31 654.56L305.06 653.42L306.80 652.26L308.55 651.11L310.29 649.95L312.03 648.78L313.78 647.62L315.52 646.44L317.27 645.27L319.01 644.09L320.76 642.91L322.50 641.72L324.24 640.54L325.99 639.35L327.73 638.16L329.48 636.96L331.22 635.77L332.97 634.58L334.71 633.38L336.45 632.19L338.20 631.00L339.94 629.80L341.69 628.61L343.43 627.43L345.18 626.24L346.92 625.06L348.67 623.88L350.41 622.70L352.15 621.53L353.90 620.37L355.64 619.21L357.39 618.06L359.13 616.91L360.88 615.78L362.62 614.65L364.36 613.53L366.11 612.42L367.85 611.32L369.60 610.23L371.34 609.16L373.09 608.10L374.83 607.05L376.58 606.02L378.32 605.00L380.06 604.00L381.81 603.02L383.55 602.05L385.30 601.11L387.04 600.18L388.79 599.28L390.53 598.40L392.27 597.54L394.02 596.70L395.76 595.89L397.51 595.11L399.25 594.35L401.00 593.62L402.74 592.92L404.48 592.25L406.23 591.62L407.97 591.01L409.72 590.44L411.46 589.91L413.21 589.41L414.95 588.95L416.70 588.52L418.44 588.14L420.18 587.80L421.93 587.50L423.67 587.24L425.42 587.03L427.16 586.87L428.91 586.76L430.65 586.69L432.39 586.67L434.14 586.71L435.88 586.80L437.63 586.95L439.37 587.15L441.12 587.40L442.86 587.72L444.61 588.09L446.35 588.53L448.09 589.02L449.84 589.58L451.58 590.19L453.33 590.86L455.07 591.60L456.82 592.40L458.56 593.25L460.30 594.17L462.05 595.15L463.79 596.18L465.54 597.27L467.28 598.43L469.03 599.63L470.77 600.90L472.52 602.21L474.26 603.58L476.00 605.00L477.75 606.47L479.49 607.99L481.24 609.56L482.98 611.17L484.73 612.82L486.47 614.51L488.21 616.24L489.96 618.00L491.70 619.80L493.45 621.62L495.19 623.48L496.94 625.36L498.68 627.26L500.42 629.18L502.17 631.11L503.91 633.06L505.66 635.03L507.40 637.00L509.15 638.98L510.89 640.96L512.64 642.95L514.38 644.94L516.12 646.93L517.87 648.92L519.61 650.90L521.36 652.88L523.10 654.85L524.85 656.81L526.59 658.76L528.33 660.69L530.08 662.62L531.82 664.53L533.57 666.42L535.31 668.30L537.06 670.16L538.80 672.00L540.55 673.82L542.29 675.62L544.03 677.39L545.78 679.15L547.52 680.88L549.27 682.59L551.01 684.27L552.76 685.93L554.50 687.57L556.24 689.17L557.99 690.76L559.73 692.31L561.48 693.84L563.22 695.34L564.97 696.82L566.71 698.26L568.45 699.68L570.20 701.07L571.94 702.43L573.69 703.76L575.43 705.06L577.18 706.34L578.92 707.58L580.67 708.80L582.41 709.98L584.15 711.14L585.90 712.27L587.64 713.37L589.39 714.44L591.13 715.48L592.88 716.49L594.62 717.48L596.36 718.43L598.11 719.36L599.85 720.26L601.60 721.13L603.34 721.98L605.09 722.80L606.83 723.59L608.58 724.36L610.32 725.10L612.06 725.82L613.81 726.51L615.55 727.18L617.30 727.82L619.04 728.45L620.79 729.05L622.53 729.63L624.27 730.19L626.02 730.72L627.76 731.24L629.51 731.74L631.25 732.22L633.00 732.68L634.74 733.12L636.48 733.55L638.23 733.96L639.97 734.35L641.72 734.73L643.46 735.09L645.21 735.43L646.95 735.76L648.70 736.08L650.44 736.38L652.18 736.67L653.93 736.94L655.67 737.20L657.42 737.45L659.16 737.69L660.91 737.92L662.65 738.13L664.39 738.34L666.14 738.53L667.88 738.72L669.63 738.89L671.37 739.06L673.12 739.21L674.86 739.36L676.61 739.50L678.35 739.63L680.09 739.76L681.84 739.87L683.58 739.98L685.33 740.08L687.07 740.18L688.82 740.27L690.56 740.35L692.30 740.43L694.05 740.50L695.79 740.57L697.54 740.64L699.28 740.69L701.03 740.75L702.77 740.80L704.52 740.84L706.26 740.89L708.00 740.93L709.75 740.96L711.49 740.99L713.24 741.02L714.98 741.05L716.73 741.08L718.47 741.10L720.21 741.12L721.96 741.14L723.70 741.15L725.45 741.17L727.19 741.18L728.94 741.19L730.68 741.20L732.42 741.21L734.17 741.22L735.91 741.23L737.66 741.23L739.40 741.24L741.15 741.24L742.89 741.25L744.64 741.25L746.38 741.26L748.12 741.26L749.87 741.26L751.61 741.27L753.36 741.27L755.10 741.27L756.85 741.27L758.59 741.28L760.33 741.28L762.08 741.28L763.82 741.28L765.57 741.29L767.31 741.29L769.06 741.29L770.80 741.29L772.55 741.30L774.29 741.30L776.03 741.30L777.78 741.30L779.52 741.30L781.27 741.30L783.01 741.30L784.76 741.30L786.50 741.30" fill="none" stroke="#ff0000" stroke-width="2.30" stroke-linejoin="round"/>
<path d="M90.50 741.30L92.24 741.17L93.99 741.00L95.73 740.83L97.48 740.66L99.22 740.48L100.97 740.30L102.71 740.12L104.45 739.93L106.20 739.73L107.94 739.54L109.69 739.33L111.43 739.13L113.18 738.92L114.92 738.70L116.67 738.49L118.41 738.26L120.15 738.04L121.90 737.80L123.64 737.57L125.39 737.33L127.13 737.08L128.88 736.83L130.62 736.58L132.36 736.32L134.11 736.06L135.85 735.79L137.60 735.51L139.34 735.24L141.09 734.95L142.83 734.67L144.58 734.38L146.32 734.08L148.06 733.78L149.81 733.47L151.55 733.16L153.30 732.84L155.04 732.52L156.79 732.19L158.53 731.86L160.27 731.52L162.02 731.18L163.76 730.83L165.51 730.47L167.25 730.11L169.00 729.75L170.74 729.38L172.48 729.00L174.23 728.62L175.97 728.23L177.72 727.83L179.46 727.43L181.21 727.03L182.95 726.61L184.70 726.20L186.44 725.77L188.18 725.34L189.93 724.90L191.67 724.46L193.42 724.01L195.16 723.55L196.91 723.09L198.65 722.62L200.39 722.14L202.14 721.65L203.88 721.16L205.63 720.67L207.37 720.16L209.12 719.65L210.86 719.13L212.61 718.60L214.35 718.07L216.09 717.52L217.84 716.97L219.58 716.42L221.33 715.85L223.07 715.28L224.82 714.70L226.56 714.11L228.30 713.51L230.05 712.91L231.79 712.29L233.54 711.67L235.28 711.04L237.03 710.40L238.77 709.75L240.52 709.10L242.26 708.43L244.00 707.76L245.75 707.07L247.49 706.38L249.24 705.68L250.98 704.97L252.73 704.25L254.47 703.52L256.21 702.78L257.96 702.03L259.70 701.27L261.45 700.50L263.19 699.72L264.94 698.93L266.68 698.12L268.42 697.31L270.17 696.49L271.91 695.66L273.66 694.82L275.40 693.96L277.15 693.10L278.89 692.22L280.64 691.33L282.38 690.43L284.12 689.52L285.87 688.60L287.61 687.66L289.36 686.72L291.10 685.76L292.85 684.79L294.59 683.81L296.33 682.81L298.08 681.80L299.82 680.78L301.57 679.75L303.31 678.70L305.06 677.64L306.80 676.57L308.55 675.49L310.29 674.39L312.03 673.27L313.78 672.15L315.52 671.01L317.27 669.85L319.01 668.68L320.76 667.50L322.50 666.30L324.24 665.09L325.99 663.86L327.73 662.62L329.48 661.36L331.22 660.09L332.97 658.80L334.71 657.50L336.45 656.18L338.20 654.85L339.94 653.50L341.69 652.13L343.43 650.75L345.18 649.36L346.92 647.95L348.67 646.52L350.41 645.08L352.15 643.63L353.90 642.17L355.64 640.69L357.39 639.20L359.13 637.70L360.88 636.19L362.62 634.67L364.36 633.15L366.11 631.61L367.85 630.07L369.60 628.53L371.34 626.98L373.09 625.42L374.83 623.87L376.58 622.31L378.32 620.76L380.06 619.21L381.81 617.67L383.55 616.13L385.30 614.59L387.04 613.07L388.79 611.56L390.53 610.06L392.27 608.57L394.02 607.10L395.76 605.64L397.51 604.20L399.25 602.78L401.00 601.37L402.74 599.99L404.48 598.63L406.23 597.30L407.97 595.98L409.72 594.69L411.46 593.43L413.21 592.19L414.95 590.99L416.70 589.81L418.44 588.66L420.18 587.55L421.93 586.47L423.67 585.42L425.42 584.41L427.16 583.43L428.91 582.50L430.65 581.60L432.39 580.74L434.14 579.93L435.88 579.16L437.63 578.43L439.37 577.75L441.12 577.12L442.86 576.54L444.61 576.01L446.35 575.53L448.09 575.11L449.84 574.74L451.58 574.43L453.33 574.17L455.07 573.98L456.82 573.84L458.56 573.77L460.30 573.77L462.05 573.83L463.79 573.96L465.54 574.16L467.28 574.43L469.03 574.77L470.77 575.18L472.52 575.67L474.26 576.24L476.00 576.87L477.75 577.59L479.49 578.38L481.24 579.24L482.98 580.17L484.73 581.18L486.47 582.26L488.21 583.42L489.96 584.64L491.70 585.92L493.45 587.28L495.19 588.70L496.94 590.19L498.68 591.73L500.42 593.34L502.17 595.01L503.91 596.73L505.66 598.51L507.40 600.34L509.15 602.22L510.89 604.15L512.64 606.13L514.38 608.15L516.12 610.21L517.87 612.31L519.61 614.45L521.36 616.63L523.10 618.83L524.85 621.07L526.59 623.33L528.33 625.61L530.08 627.92L531.82 630.24L533.57 632.57L535.31 634.92L537.06 637.27L538.80 639.63L540.55 641.99L542.29 644.35L544.03 646.70L545.78 649.04L547.52 651.37L549.27 653.69L551.01 655.98L552.76 658.26L554.50 660.52L556.24 662.75L557.99 664.96L559.73 667.14L561.48 669.28L563.22 671.40L564.97 673.48L566.71 675.53L568.45 677.54L570.20 679.51L571.94 681.44L573.69 683.34L575.43 685.19L577.18 687.01L578.92 688.78L580.67 690.52L582.41 692.21L584.15 693.86L585.90 695.47L587.64 697.03L589.39 698.56L591.13 700.05L592.88 701.49L594.62 702.90L596.36 704.27L598.11 705.60L599.85 706.90L601.60 708.16L603.34 709.38L605.09 710.57L606.83 711.73L608.58 712.85L610.32 713.94L612.06 715.00L613.81 716.03L615.55 717.03L617.30 718.00L619.04 718.94L620.79 719.85L622.53 720.73L624.27 721.59L626.02 722.42L627.76 723.22L629.51 724.00L631.25 724.76L633.00 725.49L634.74 726.19L636.48 726.87L638.23 727.53L639.97 728.17L641.72 728.79L643.46 729.38L645.21 729.96L646.95 730.51L648.70 731.05L650.44 731.56L652.18 732.06L653.93 732.54L655.67 733.00L657.42 733.45L659.16 733.88L660.91 734.29L662.65 734.68L664.39 735.06L666.14 735.43L667.88 735.78L669.63 736.11L671.37 736.43L673.12 736.74L674.86 737.04L676.61 737.32L678.35 737.59L680.09 737.84L681.84 738.09L683.58 738.32L685.33 738.54L687.07 738.75L688.82 738.95L690.56 739.14L692.30 739.32L694.05 739.49L695.79 739.64L697.54 739.79L699.28 739.93L701.03 740.07L702.77 740.19L704.52 740.30L706.26 740.41L708.00 740.51L709.75 740.60L711.49 740.68L713.24 740.76L714.98 740.83L716.73 740.90L718.47 740.95L720.21 741.01L721.96 741.05L723.70 741.10L725.45 741.13L727.19 741.17L728.94 741.19L730.68 741.22L732.42 741.24L734.17 741.25L735.91 741.27L737.66 741.28L739.40 741.28L741.15 741.29L742.89 741.29L744.64 741.29L746.38 741.29L748.12 741.28L749.87 741.28L751.61 741.27L753.36 741.27L755.10 741.26L756.85 741.25L758.59 741.24L760.33 741.24L762.08 741.23L763.82 741.22L765.57 741.22L767.31 741.21L769.06 741.21L770.80 741.21L772.55 741.21L774.29 741.21L776.03 741.22L777.78 741.22L779.52 741.23L781.27 741.25L783.01 741.26L784.76 741.28L786.50 741.30" fill="none" stroke="#0000ff" stroke-width="2.30" stroke-linejoin="round" stroke-dasharray="2.3 3.95"/>
<path d="M90.50 741.30L92.24 741.18L93.99 741.05L95.73 740.92L97.48 740.78L99.22 740.65L100.97 740.52L102.71 740.38L104.45 740.25L106.20 740.11L107.94 739.97L109.69 739.83L111.43 739.69L113.18 739.54L114.92 739.40L116.67 739.25L118.41 739.10L120.15 738.95L121.90 738.80L123.64 738.64L125.39 738.48L127.13 738.32L128.88 738.16L130.62 738.00L132.36 737.83L134.11 737.66L135.85 737.49L137.60 737.31L139.34 737.13L141.09 736.95L142.83 736.76L144.58 736.57L146.32 736.38L148.06 736.19L149.81 735.99L151.55 735.79L153.30 735.58L155.04 735.37L156.79 735.16L158.53 734.94L160.27 734.72L162.02 734.49L163.76 734.26L165.51 734.02L167.25 733.78L169.00 733.54L170.74 733.29L172.48 733.04L174.23 732.78L175.97 732.51L177.72 732.24L179.46 731.97L181.21 731.69L182.95 731.40L184.70 731.11L186.44 730.82L188.18 730.51L189.93 730.20L191.67 729.89L193.42 729.57L195.16 729.24L196.91 728.91L198.65 728.57L200.39 728.22L202.14 727.87L203.88 727.51L205.63 727.14L207.37 726.77L209.12 726.38L210.86 726.00L212.61 725.60L214.35 725.19L216.09 724.78L217.84 724.36L219.58 723.94L221.33 723.50L223.07 723.06L224.82 722.60L226.56 722.14L228.30 721.67L230.05 721.20L231.79 720.71L233.54 720.21L235.28 719.71L237.03 719.19L238.77 718.67L240.52 718.14L242.26 717.59L244.00 717.04L245.75 716.48L247.49 715.91L249.24 715.32L250.98 714.73L252.73 714.13L254.47 713.51L256.21 712.89L257.96 712.25L259.70 711.60L261.45 710.95L263.19 710.28L264.94 709.59L266.68 708.90L268.42 708.20L270.17 707.48L271.91 706.75L273.66 706.01L275.40 705.26L277.15 704.50L278.89 703.72L280.64 702.93L282.38 702.12L284.12 701.31L285.87 700.48L287.61 699.63L289.36 698.78L291.10 697.91L292.85 697.02L294.59 696.13L296.33 695.21L298.08 694.29L299.82 693.35L301.57 692.39L303.31 691.42L305.06 690.43L306.80 689.43L308.55 688.42L310.29 687.39L312.03 686.34L313.78 685.28L315.52 684.20L317.27 683.11L319.01 681.99L320.76 680.87L322.50 679.72L324.24 678.56L325.99 677.39L327.73 676.19L329.48 674.98L331.22 673.75L332.97 672.51L334.71 671.24L336.45 669.96L338.20 668.66L339.94 667.35L341.69 666.02L343.43 664.67L345.18 663.30L346.92 661.92L348.67 660.51L350.41 659.10L352.15 657.66L353.90 656.22L355.64 654.75L357.39 653.27L359.13 651.78L360.88 650.27L362.62 648.75L364.36 647.21L366.11 645.66L367.85 644.10L369.60 642.52L371.34 640.94L373.09 639.34L374.83 637.74L376.58 636.12L378.32 634.50L380.06 632.87L381.81 631.23L383.55 629.58L385.30 627.93L387.04 626.27L388.79 624.61L390.53 622.95L392.27 621.29L394.02 619.62L395.76 617.96L397.51 616.29L399.25 614.63L401.00 612.97L402.74 611.31L404.48 609.66L406.23 608.02L407.97 606.39L409.72 604.76L411.46 603.14L413.21 601.54L414.95 599.95L416.70 598.37L418.44 596.81L420.18 595.27L421.93 593.74L423.67 592.24L425.42 590.76L427.16 589.30L428.91 587.86L430.65 586.45L432.39 585.07L434.14 583.72L435.88 582.40L437.63 581.11L439.37 579.86L441.12 578.64L442.86 577.47L444.61 576.33L446.35 575.24L448.09 574.18L449.84 573.18L451.58 572.22L453.33 571.32L455.07 570.46L456.82 569.66L458.56 568.91L460.30 568.23L462.05 567.60L463.79 567.04L465.54 566.54L467.28 566.10L469.03 565.74L470.77 565.45L472.52 565.23L474.26 565.09L476.00 565.02L477.75 565.04L479.49 565.14L481.24 565.33L482.98 565.60L484.73 565.95L486.47 566.40L488.21 566.93L489.96 567.56L491.70 568.27L493.45 569.08L495.19 569.98L496.94 570.96L498.68 572.04L500.42 573.21L502.17 574.46L503.91 575.80L505.66 577.23L507.40 578.74L509.15 580.33L510.89 582.00L512.64 583.75L514.38 585.57L516.12 587.47L517.87 589.43L519.61 591.46L521.36 593.56L523.10 595.71L524.85 597.92L526.59 600.17L528.33 602.48L530.08 604.82L531.82 607.20L533.57 609.62L535.31 612.07L537.06 614.54L538.80 617.04L540.55 619.55L542.29 622.08L544.03 624.62L545.78 627.17L547.52 629.73L549.27 632.28L551.01 634.84L552.76 637.38L554.50 639.92L556.24 642.45L557.99 644.97L559.73 647.46L561.48 649.94L563.22 652.40L564.97 654.83L566.71 657.24L568.45 659.62L570.20 661.97L571.94 664.29L573.69 666.57L575.43 668.82L577.18 671.03L578.92 673.20L580.67 675.34L582.41 677.43L584.15 679.48L585.90 681.49L587.64 683.46L589.39 685.39L591.13 687.27L592.88 689.11L594.62 690.91L596.36 692.66L598.11 694.37L599.85 696.03L601.60 697.65L603.34 699.23L605.09 700.77L606.83 702.27L608.58 703.73L610.32 705.14L612.06 706.52L613.81 707.86L615.55 709.16L617.30 710.43L619.04 711.66L620.79 712.85L622.53 714.01L624.27 715.14L626.02 716.23L627.76 717.28L629.51 718.31L631.25 719.30L633.00 720.26L634.74 721.19L636.48 722.10L638.23 722.97L639.97 723.81L641.72 724.62L643.46 725.41L645.21 726.17L646.95 726.91L648.70 727.61L650.44 728.30L652.18 728.95L653.93 729.59L655.67 730.20L657.42 730.78L659.16 731.35L660.91 731.89L662.65 732.41L664.39 732.91L666.14 733.39L667.88 733.85L669.63 734.29L671.37 734.71L673.12 735.11L674.86 735.49L676.61 735.86L678.35 736.21L680.09 736.54L681.84 736.86L683.58 737.16L685.33 737.45L687.07 737.72L688.82 737.98L690.56 738.22L692.30 738.45L694.05 738.67L695.79 738.87L697.54 739.06L699.28 739.25L701.03 739.42L702.77 739.58L704.52 739.72L706.26 739.86L708.00 739.99L709.75 740.11L711.49 740.22L713.24 740.33L714.98 740.42L716.73 740.51L718.47 740.59L720.21 740.66L721.96 740.73L723.70 740.79L725.45 740.84L727.19 740.89L728.94 740.93L730.68 740.97L732.42 741.01L734.17 741.04L735.91 741.06L737.66 741.08L739.40 741.10L741.15 741.12L742.89 741.13L744.64 741.14L746.38 741.15L748.12 741.15L749.87 741.16L751.61 741.16L753.36 741.16L755.10 741.16L756.85 741.17L758.59 741.17L760.33 741.17L762.08 741.17L763.82 741.17L765.57 741.17L767.31 741.17L769.06 741.17L770.80 741.17L772.55 741.18L774.29 741.19L776.03 741.20L777.78 741.21L779.52 741.22L781.27 741.23L783.01 741.25L784.76 741.27L786.50 741.30" fill="none" stroke="#00ff00" stroke-width="2.30" stroke-linejoin="round" stroke-dasharray="11.3 8.2"/>
<path d="M90.50 741.26L92.24 741.27L93.99 741.26L95.73 741.25L97.48 741.24L99.22 741.21L100.97 741.18L102.71 741.15L104.45 741.11L106.20 741.06L107.94 741.01L109.69 740.96L111.43 740.90L113.18 740.83L114.92 740.77L116.67 740.69L118.41 740.62L120.15 740.54L121.90 740.45L123.64 740.37L125.39 740.28L127.13 740.18L128.88 740.08L130.62 739.99L132.36 739.88L134.11 739.78L135.85 739.67L137.60 739.56L139.34 739.45L141.09 739.33L142.83 739.21L144.58 739.09L146.32 738.97L148.06 738.84L149.81 738.72L151.55 738.59L153.30 738.46L155.04 738.33L156.79 738.19L158.53 738.05L160.27 737.91L162.02 737.77L163.76 737.63L165.51 737.49L167.25 737.34L169.00 737.19L170.74 737.04L172.48 736.88L174.23 736.73L175.97 736.57L177.72 736.41L179.46 736.24L181.21 736.08L182.95 735.91L184.70 735.74L186.44 735.56L188.18 735.39L189.93 735.21L191.67 735.02L193.42 734.84L195.16 734.65L196.91 734.45L198.65 734.25L200.39 734.05L202.14 733.85L203.88 733.64L205.63 733.42L207.37 733.20L209.12 732.98L210.86 732.75L212.61 732.52L214.35 732.28L216.09 732.03L217.84 731.78L219.58 731.53L221.33 731.26L223.07 730.99L224.82 730.72L226.56 730.43L228.30 730.14L230.05 729.84L231.79 729.54L233.54 729.22L235.28 728.90L237.03 728.57L238.77 728.23L240.52 727.88L242.26 727.52L244.00 727.15L245.75 726.77L247.49 726.38L249.24 725.98L250.98 725.57L252.73 725.14L254.47 724.71L256.21 724.26L257.96 723.81L259.70 723.34L261.45 722.86L263.19 722.36L264.94 721.85L266.68 721.33L268.42 720.80L270.17 720.25L271.91 719.69L273.66 719.12L275.40 718.53L277.15 717.92L278.89 717.30L280.64 716.67L282.38 716.02L284.12 715.36L285.87 714.68L287.61 713.98L289.36 713.27L291.10 712.54L292.85 711.80L294.59 711.04L296.33 710.26L298.08 709.47L299.82 708.66L301.57 707.83L303.31 706.98L305.06 706.11L306.80 705.23L308.55 704.33L310.29 703.41L312.03 702.47L313.78 701.52L315.52 700.54L317.27 699.55L319.01 698.53L320.76 697.50L322.50 696.45L324.24 695.37L325.99 694.28L327.73 693.17L329.48 692.03L331.22 690.88L332.97 689.70L334.71 688.51L336.45 687.29L338.20 686.06L339.94 684.80L341.69 683.52L343.43 682.22L345.18 680.89L346.92 679.55L348.67 678.18L350.41 676.79L352.15 675.38L353.90 673.95L355.64 672.49L357.39 671.01L359.13 669.51L360.88 667.99L362.62 666.45L364.36 664.88L366.11 663.30L367.85 661.69L369.60 660.06L371.34 658.41L373.09 656.74L374.83 655.05L376.58 653.34L378.32 651.62L380.06 649.87L381.81 648.11L383.55 646.33L385.30 644.53L387.04 642.72L388.79 640.90L390.53 639.05L392.27 637.20L394.02 635.33L395.76 633.45L397.51 631.56L399.25 629.66L401.00 627.75L402.74 625.84L404.48 623.91L406.23 621.98L407.97 620.05L409.72 618.11L411.46 616.17L413.21 614.22L414.95 612.28L416.70 610.34L418.44 608.40L420.18 606.47L421.93 604.54L423.67 602.62L425.42 600.71L427.16 598.80L428.91 596.91L430.65 595.03L432.39 593.17L434.14 591.32L435.88 589.49L437.63 587.68L439.37 585.90L441.12 584.13L442.86 582.40L444.61 580.68L446.35 579.00L448.09 577.35L449.84 575.74L451.58 574.15L453.33 572.61L455.07 571.10L456.82 569.64L458.56 568.22L460.30 566.85L462.05 565.52L463.79 564.25L465.54 563.03L467.28 561.86L469.03 560.76L470.77 559.71L472.52 558.72L474.26 557.81L476.00 556.95L477.75 556.17L479.49 555.47L481.24 554.83L482.98 554.28L484.73 553.81L486.47 553.42L488.21 553.12L489.96 552.91L491.70 552.79L493.45 552.77L495.19 552.85L496.94 553.03L498.68 553.31L500.42 553.69L502.17 554.19L503.91 554.79L505.66 555.50L507.40 556.33L509.15 557.26L510.89 558.30L512.64 559.45L514.38 560.71L516.12 562.08L517.87 563.56L519.61 565.14L521.36 566.82L523.10 568.61L524.85 570.48L526.59 572.46L528.33 574.52L530.08 576.67L531.82 578.90L533.57 581.21L535.31 583.59L537.06 586.04L538.80 588.55L540.55 591.12L542.29 593.74L544.03 596.41L545.78 599.12L547.52 601.87L549.27 604.65L551.01 607.47L552.76 610.30L554.50 613.16L556.24 616.03L557.99 618.90L559.73 621.78L561.48 624.67L563.22 627.54L564.97 630.41L566.71 633.26L568.45 636.10L570.20 638.91L571.94 641.70L573.69 644.47L575.43 647.20L577.18 649.90L578.92 652.56L580.67 655.19L582.41 657.77L584.15 660.32L585.90 662.81L587.64 665.27L589.39 667.68L591.13 670.04L592.88 672.35L594.62 674.62L596.36 676.83L598.11 679.00L599.85 681.12L601.60 683.19L603.34 685.21L605.09 687.19L606.83 689.12L608.58 691.00L610.32 692.84L612.06 694.63L613.81 696.38L615.55 698.08L617.30 699.74L619.04 701.36L620.79 702.93L622.53 704.46L624.27 705.95L626.02 707.39L627.76 708.80L629.51 710.16L631.25 711.49L633.00 712.77L634.74 714.02L636.48 715.23L638.23 716.40L639.97 717.53L641.72 718.63L643.46 719.69L645.21 720.72L646.95 721.71L648.70 722.67L650.44 723.59L652.18 724.48L653.93 725.34L655.67 726.16L657.42 726.96L659.16 727.72L660.91 728.45L662.65 729.16L664.39 729.84L666.14 730.48L667.88 731.10L669.63 731.70L671.37 732.26L673.12 732.81L674.86 733.32L676.61 733.82L678.35 734.29L680.09 734.74L681.84 735.16L683.58 735.57L685.33 735.95L687.07 736.32L688.82 736.66L690.56 736.99L692.30 737.30L694.05 737.59L695.79 737.87L697.54 738.13L699.28 738.37L701.03 738.60L702.77 738.82L704.52 739.02L706.26 739.21L708.00 739.39L709.75 739.56L711.49 739.71L713.24 739.85L714.98 739.99L716.73 740.11L718.47 740.23L720.21 740.34L721.96 740.43L723.70 740.52L725.45 740.61L727.19 740.68L728.94 740.75L730.68 740.82L732.42 740.87L734.17 740.92L735.91 740.97L737.66 741.01L739.40 741.05L741.15 741.09L742.89 741.12L744.64 741.14L746.38 741.16L748.12 741.19L749.87 741.20L751.61 741.22L753.36 741.23L755.10 741.24L756.85 741.25L758.59 741.26L760.33 741.27L762.08 741.27L763.82 741.28L765.57 741.28L767.31 741.28L769.06 741.29L770.80 741.29L772.55 741.29L774.29 741.29L776.03 741.29L777.78 741.29L779.52 741.29L781.27 741.29L783.01 741.29L784.76 741.29L786.50 741.29" fill="none" stroke="#ff00ff" stroke-width="2.30" stroke-linejoin="round" stroke-dasharray="27.9 8.2"/>
<path d="M90.50 741.30L92.24 741.28L93.99 741.25L95.73 741.21L97.48 741.17L99.22 741.14L100.97 741.10L102.71 741.06L104.45 741.03L106.20 740.99L107.94 740.95L109.69 740.91L111.43 740.87L113.18 740.83L114.92 740.79L116.67 740.75L118.41 740.71L120.15 740.66L121.90 740.62L123.64 740.57L125.39 740.53L127.13 740.48L128.88 740.43L130.62 740.38L132.36 740.33L134.11 740.27L135.85 740.22L137.60 740.16L139.34 740.10L141.09 740.04L142.83 739.98L144.58 739.92L146.32 739.85L148.06 739.78L149.81 739.71L151.55 739.64L153.30 739.56L155.04 739.49L156.79 739.41L158.53 739.33L160.27 739.24L162.02 739.16L163.76 739.07L165.51 738.98L167.25 738.88L169.00 738.78L170.74 738.68L172.48 738.58L174.23 738.47L175.97 738.36L177.72 738.25L179.46 738.13L181.21 738.01L182.95 737.89L184.70 737.76L186.44 737.63L188.18 737.50L189.93 737.36L191.67 737.22L193.42 737.07L195.16 736.92L196.91 736.77L198.65 736.61L200.39 736.45L202.14 736.28L203.88 736.11L205.63 735.94L207.37 735.76L209.12 735.57L210.86 735.39L212.61 735.19L214.35 734.99L216.09 734.79L217.84 734.58L219.58 734.37L221.33 734.15L223.07 733.93L224.82 733.70L226.56 733.47L228.30 733.23L230.05 732.98L231.79 732.73L233.54 732.47L235.28 732.21L237.03 731.94L238.77 731.67L240.52 731.39L242.26 731.10L244.00 730.81L245.75 730.51L247.49 730.20L249.24 729.89L250.98 729.57L252.73 729.24L254.47 728.91L256.21 728.57L257.96 728.22L259.70 727.86L261.45 727.49L263.19 727.12L264.94 726.73L266.68 726.34L268.42 725.94L270.17 725.53L271.91 725.11L273.66 724.68L275.40 724.24L277.15 723.79L278.89 723.32L280.64 722.85L282.38 722.37L284.12 721.87L285.87 721.36L287.61 720.84L289.36 720.30L291.10 719.76L292.85 719.20L294.59 718.62L296.33 718.03L298.08 717.43L299.82 716.81L301.57 716.17L303.31 715.52L305.06 714.86L306.80 714.17L308.55 713.47L310.29 712.75L312.03 712.01L313.78 711.26L315.52 710.48L317.27 709.69L319.01 708.87L320.76 708.04L322.50 707.18L324.24 706.30L325.99 705.40L327.73 704.48L329.48 703.53L331.22 702.56L332.97 701.57L334.71 700.55L336.45 699.51L338.20 698.44L339.94 697.34L341.69 696.21L343.43 695.06L345.18 693.88L346.92 692.67L348.67 691.44L350.41 690.17L352.15 688.87L353.90 687.55L355.64 686.19L357.39 684.81L359.13 683.39L360.88 681.95L362.62 680.47L364.36 678.97L366.11 677.43L367.85 675.86L369.60 674.27L371.34 672.64L373.09 670.99L374.83 669.30L376.58 667.59L378.32 665.85L380.06 664.07L381.81 662.28L383.55 660.45L385.30 658.60L387.04 656.72L388.79 654.81L390.53 652.88L392.27 650.93L394.02 648.95L395.76 646.94L397.51 644.92L399.25 642.87L401.00 640.81L402.74 638.72L404.48 636.61L406.23 634.49L407.97 632.35L409.72 630.19L411.46 628.02L413.21 625.83L414.95 623.63L416.70 621.42L418.44 619.20L420.18 616.97L421.93 614.74L423.67 612.49L425.42 610.25L427.16 608.00L428.91 605.75L430.65 603.49L432.39 601.25L434.14 599.00L435.88 596.77L437.63 594.54L439.37 592.32L441.12 590.12L442.86 587.93L444.61 585.76L446.35 583.61L448.09 581.49L449.84 579.39L451.58 577.32L453.33 575.28L455.07 573.28L456.82 571.32L458.56 569.40L460.30 567.53L462.05 565.70L463.79 563.93L465.54 562.21L467.28 560.55L469.03 558.96L470.77 557.43L472.52 555.97L474.26 554.59L476.00 553.29L477.75 552.06L479.49 550.92L481.24 549.87L482.98 548.90L484.73 548.03L486.47 547.25L488.21 546.57L489.96 545.98L491.70 545.50L493.45 545.11L495.19 544.83L496.94 544.65L498.68 544.57L500.42 544.60L502.17 544.73L503.91 544.97L505.66 545.32L507.40 545.77L509.15 546.33L510.89 547.00L512.64 547.77L514.38 548.65L516.12 549.63L517.87 550.71L519.61 551.90L521.36 553.19L523.10 554.58L524.85 556.06L526.59 557.64L528.33 559.32L530.08 561.09L531.82 562.94L533.57 564.89L535.31 566.92L537.06 569.03L538.80 571.22L540.55 573.48L542.29 575.81L544.03 578.22L545.78 580.68L547.52 583.21L549.27 585.80L551.01 588.43L552.76 591.12L554.50 593.84L556.24 596.61L557.99 599.40L559.73 602.23L561.48 605.08L563.22 607.94L564.97 610.82L566.71 613.71L568.45 616.60L570.20 619.49L571.94 622.38L573.69 625.26L575.43 628.13L577.18 630.98L578.92 633.82L580.67 636.64L582.41 639.44L584.15 642.21L585.90 644.95L587.64 647.67L589.39 650.35L591.13 653.00L592.88 655.62L594.62 658.20L596.36 660.74L598.11 663.25L599.85 665.72L601.60 668.15L603.34 670.54L605.09 672.89L606.83 675.20L608.58 677.47L610.32 679.69L612.06 681.88L613.81 684.02L615.55 686.12L617.30 688.17L619.04 690.19L620.79 692.15L622.53 694.07L624.27 695.95L626.02 697.79L627.76 699.57L629.51 701.32L631.25 703.01L633.00 704.67L634.74 706.27L636.48 707.83L638.23 709.35L639.97 710.82L641.72 712.25L643.46 713.63L645.21 714.97L646.95 716.26L648.70 717.51L650.44 718.72L652.18 719.89L653.93 721.01L655.67 722.09L657.42 723.13L659.16 724.12L660.91 725.08L662.65 726.00L664.39 726.88L666.14 727.72L667.88 728.52L669.63 729.29L671.37 730.02L673.12 730.71L674.86 731.37L676.61 732.00L678.35 732.60L680.09 733.17L681.84 733.70L683.58 734.21L685.33 734.69L687.07 735.14L688.82 735.57L690.56 735.97L692.30 736.35L694.05 736.71L695.79 737.04L697.54 737.36L699.28 737.65L701.03 737.93L702.77 738.19L704.52 738.43L706.26 738.66L708.00 738.87L709.75 739.07L711.49 739.25L713.24 739.42L714.98 739.58L716.73 739.73L718.47 739.87L720.21 739.99L721.96 740.11L723.70 740.22L725.45 740.32L727.19 740.41L728.94 740.50L730.68 740.58L732.42 740.65L734.17 740.72L735.91 740.78L737.66 740.83L739.40 740.89L741.15 740.93L742.89 740.98L744.64 741.02L746.38 741.06L748.12 741.09L749.87 741.12L751.61 741.15L753.36 741.18L755.10 741.20L756.85 741.22L758.59 741.24L760.33 741.26L762.08 741.28L763.82 741.29L765.57 741.30L767.31 741.30L769.06 741.30L770.80 741.30L772.55 741.30L774.29 741.30L776.03 741.30L777.78 741.30L779.52 741.30L781.27 741.30L783.01 741.30L784.76 741.30L786.50 741.30" fill="none" stroke="#000000" stroke-width="2.30" stroke-linejoin="round" stroke-dasharray="2.3 3.9 11.3 3.9"/>
<path d="M159.70 103.30H264.30" fill="none" stroke="#ff0000" stroke-width="2.30"/>
<path d="M159.70 132.30H264.30" fill="none" stroke="#0000ff" stroke-width="2.30" stroke-dasharray="2.3 3.95"/>
<path d="M159.70 161.30H264.30" fill="none" stroke="#00ff00" stroke-width="2.30" stroke-dasharray="11.3 8.2"/>
<path d="M159.70 190.30H264.30" fill="none" stroke="#ff00ff" stroke-width="2.30" stroke-dasharray="27.9 8.2"/>
<path d="M159.70 219.30H264.30" fill="none" stroke="#000000" stroke-width="2.30" stroke-dasharray="2.3 3.9 11.3 3.9"/>
<path d="M159.70 451.30H264.30" fill="none" stroke="#ff0000" stroke-width="2.30"/>
<path d="M159.70 480.30H264.30" fill="none" stroke="#0000ff" stroke-width="2.30" stroke-dasharray="2.3 3.95"/>
<path d="M159.70 509.30H264.30" fill="none" stroke="#00ff00" stroke-width="2.30" stroke-dasharray="11.3 8.2"/>
<path d="M159.70 538.30H264.30" fill="none" stroke="#ff00ff" stroke-width="2.30" stroke-dasharray="27.9 8.2"/>
<path d="M159.70 567.30H264.30" fill="none" stroke="#000000" stroke-width="2.30" stroke-dasharray="2.3 3.9 11.3 3.9"/>
<text transform="matrix(0.1754 0.0000 0.0000 0.1200 278.1228 103.7600)" font-size="200" fill="#000">z=0</text>
<text transform="matrix(0.1711 0.0000 0.0000 0.1191 278.1446 132.6426)" font-size="200" fill="#000">z=0.5</text>
<text transform="matrix(0.1660 0.0000 0.0000 0.1227 278.1702 162.0000)" font-size="200" fill="#000">z=1</text>
<text transform="matrix(0.1711 0.0000 0.0000 0.1200 278.1446 190.6400)" font-size="200" fill="#000">z=1.5</text>
<text transform="matrix(0.1790 0.0000 0.0000 0.1227 278.1049 220.0000)" font-size="200" fill="#000">z=2</text>
<text transform="matrix(0.0988 0.0000 0.0000 0.1130 276.6072 451.5000)" font-size="200" fill="#000">M</text>
<text transform="matrix(0.0849 0.0000 0.0000 0.0773 293.5602 459.3000)" font-size="200" fill="#000">4</text>
<text transform="matrix(0.1398 0.0000 0.0000 0.1160 315.5022 453.4560)" font-size="200" fill="#000">=</text>
<text transform="matrix(0.1268 0.0000 0.0000 0.1129 344.7451 451.6000)" font-size="200" fill="#000">1</text>
<text transform="matrix(0.0988 0.0000 0.0000 0.1130 276.6072 480.5000)" font-size="200" fill="#000">M</text>
<text transform="matrix(0.0849 0.0000 0.0000 0.0773 293.5602 488.3000)" font-size="200" fill="#000">4</text>
<text transform="matrix(0.1398 0.0000 0.0000 0.1160 315.5022 482.4560)" font-size="200" fill="#000">=</text>
<text transform="matrix(0.1375 0.0000 0.0000 0.1120 344.9500 480.3759)" font-size="200" fill="#000">5</text>
<text transform="matrix(0.0988 0.0000 0.0000 0.1130 276.6072 509.5000)" font-size="200" fill="#000">M</text>
<text transform="matrix(0.0849 0.0000 0.0000 0.0773 293.5602 517.3000)" font-size="200" fill="#000">4</text>
<text transform="matrix(0.1398 0.0000 0.0000 0.1160 315.5022 511.4560)" font-size="200" fill="#000">=</text>
<text transform="matrix(0.1440 0.0000 0.0000 0.1104 344.4520 509.3793)" font-size="200" fill="#000">10</text>
<text transform="matrix(0.0988 0.0000 0.0000 0.1130 276.6072 538.5000)" font-size="200" fill="#000">M</text>
<text transform="matrix(0.0849 0.0000 0.0000 0.0773 293.5602 546.3000)" font-size="200" fill="#000">4</text>
<text transform="matrix(0.1398 0.0000 0.0000 0.1160 315.5022 540.4560)" font-size="200" fill="#000">=</text>
<text transform="matrix(0.1437 0.0000 0.0000 0.1104 344.5066 538.3793)" font-size="200" fill="#000">20</text>
<text transform="matrix(0.0988 0.0000 0.0000 0.1130 276.6072 567.5000)" font-size="200" fill="#000">M</text>
<text transform="matrix(0.0849 0.0000 0.0000 0.0773 293.5602 575.3000)" font-size="200" fill="#000">4</text>
<text transform="matrix(0.1398 0.0000 0.0000 0.1160 315.5022 569.4560)" font-size="200" fill="#000">=</text>
<text transform="matrix(0.1437 0.0000 0.0000 0.1104 344.5066 567.3793)" font-size="200" fill="#000">30</text>
<text transform="matrix(0.1197 0.0000 0.0000 0.1366 648.0605 103.8269)" font-size="200" fill="#000">ΛCDM</text>
<text transform="matrix(0.1187 0.0000 0.0000 0.1397 647.5880 144.6000)" font-size="200" fill="#000">M</text>
<text transform="matrix(0.0946 0.0000 0.0000 0.0848 668.0215 152.9000)" font-size="200" fill="#000">4</text>
<text transform="matrix(0.1656 0.0000 0.0000 0.1200 692.9441 145.5200)" font-size="200" fill="#000">=</text>
<text transform="matrix(0.1577 0.0000 0.0000 0.1370 727.9189 144.5259)" font-size="200" fill="#000">10</text>
<text transform="matrix(0.1487 0.0000 0.0000 0.1402 648.1564 492.4000)" font-size="200" fill="#000">z</text>
<text transform="matrix(0.1656 0.0000 0.0000 0.1240 676.9441 492.2840)" font-size="200" fill="#000">=</text>
<text transform="matrix(0.1607 0.0000 0.0000 0.1356 711.0143 492.3289)" font-size="200" fill="#000">0</text>
<text transform="matrix(0.1593 0.0000 0.0000 0.1381 58.5256 54.3239)" font-size="200" fill="#000">6</text>
<text transform="matrix(0.1473 0.0000 0.0000 0.1402 59.2108 170.6000)" font-size="200" fill="#000">4</text>
<text transform="matrix(0.1713 0.0000 0.0000 0.1402 58.2587 286.6000)" font-size="200" fill="#000">2</text>
<text transform="matrix(0.1407 0.0000 0.0000 0.1172 62.5744 401.1657)" font-size="200" fill="#000">6</text>
<text transform="matrix(0.1301 0.0000 0.0000 0.1189 63.1796 517.4000)" font-size="200" fill="#000">4</text>
<text transform="matrix(0.1512 0.0000 0.0000 0.1189 62.3388 633.4000)" font-size="200" fill="#000">2</text>
<text transform="matrix(0.1440 0.0000 0.0000 0.1163 62.5476 749.1674)" font-size="200" fill="#000">0</text>
<text transform="matrix(0.1369 0.0000 0.0000 0.1207 83.2548 770.5585)" font-size="200" fill="#000">0</text>
<text transform="matrix(0.1459 0.0000 0.0000 0.1199 211.2829 770.4404)" font-size="200" fill="#000">0.2</text>
<text transform="matrix(0.1410 0.0000 0.0000 0.1199 350.5220 770.4404)" font-size="200" fill="#000">0.4</text>
<text transform="matrix(0.1428 0.0000 0.0000 0.1199 489.7076 770.4404)" font-size="200" fill="#000">0.6</text>
<text transform="matrix(0.1440 0.0000 0.0000 0.1199 628.8979 770.4404)" font-size="200" fill="#000">0.8</text>
<text transform="matrix(0.1070 0.0000 0.0000 0.1235 780.8803 770.8000)" font-size="200" fill="#000">1</text>
<text transform="matrix(0.1468 0.0000 0.0000 0.1208 416.5722 801.5583)" font-size="200" fill="#000">a</text>
<path d="M432.3 806.2L445.5 783.2" fill="none" stroke="#000" stroke-width="1.15" stroke-linecap="round"/>
<text transform="matrix(0.1493 0.0000 0.0000 0.1208 446.8053 801.5583)" font-size="200" fill="#000">c</text>
<text transform="matrix(0.0000 -0.1244 0.1228 0.0000 40.6000 178.4218)" font-size="200" fill="#000">z</text>
<text transform="matrix(0.0000 -0.0940 0.1252 0.0000 40.7000 204.5639)" font-size="200" fill="#000">M</text>
<text transform="matrix(0.0000 -0.1320 0.1219 0.0000 40.5562 225.4560)" font-size="200" fill="#000">c</text>
<text transform="matrix(0.0000 -0.1329 0.1219 0.0000 40.5562 255.5304)" font-size="200" fill="#000">a</text>
<text transform="matrix(0.0000 -0.1292 0.1241 0.0000 40.7642 280.8876)" font-size="200" fill="#000">p</text>
<path transform="translate(0.00 0.00)" d="M21.6 164.9Q33.4 153.2 45.2 164.9M21.6 258.7Q33.4 269.2 45.2 258.7M22.0 227.4L44.8 240.5M40.0 184.20Q42.6 184.10 43.1 182.30M40.0 209.60Q42.6 209.50 43.1 207.70" fill="none" stroke="#000" stroke-width="1.3" stroke-linecap="round"/>
<circle cx="30.70" cy="183.20" r="1.3"/>
<circle cx="39.60" cy="183.20" r="1.3"/>
<circle cx="30.70" cy="208.60" r="1.3"/>
<circle cx="39.60" cy="208.60" r="1.3"/>
<text transform="matrix(0.0000 -0.1244 0.1228 0.0000 44.9000 526.7218)" font-size="200" fill="#000">z</text>
<text transform="matrix(0.0000 -0.0940 0.1252 0.0000 45.0000 552.8639)" font-size="200" fill="#000">M</text>
<text transform="matrix(0.0000 -0.1320 0.1219 0.0000 44.8562 573.7560)" font-size="200" fill="#000">c</text>
<text transform="matrix(0.0000 -0.1329 0.1219 0.0000 44.8562 603.8304)" font-size="200" fill="#000">a</text>
<text transform="matrix(0.0000 -0.1292 0.1241 0.0000 45.0642 629.1876)" font-size="200" fill="#000">p</text>
<path transform="translate(4.30 348.30)" d="M21.6 164.9Q33.4 153.2 45.2 164.9M21.6 258.7Q33.4 269.2 45.2 258.7M22.0 227.4L44.8 240.5M40.0 184.20Q42.6 184.10 43.1 182.30M40.0 209.60Q42.6 209.50 43.1 207.70" fill="none" stroke="#000" stroke-width="1.3" stroke-linecap="round"/>
<circle cx="35.00" cy="531.50" r="1.3"/>
<circle cx="43.90" cy="531.50" r="1.3"/>
<circle cx="35.00" cy="556.90" r="1.3"/>
<circle cx="43.90" cy="556.90" r="1.3"/>
</g>
</svg>
</body></html>
